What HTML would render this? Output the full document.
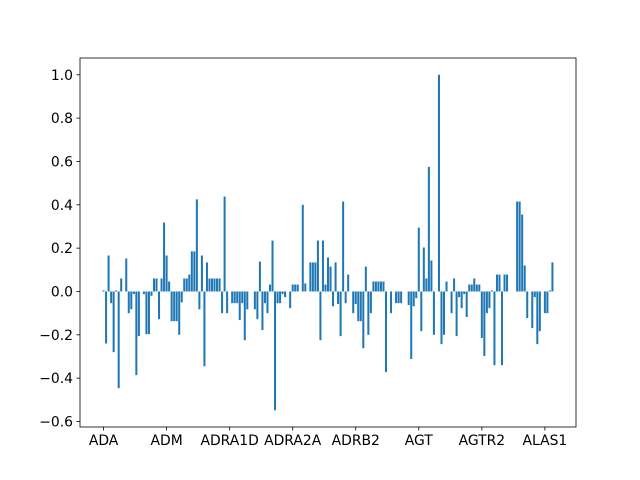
<!DOCTYPE html>
<html><head><meta charset="utf-8"><style>
body{margin:0;background:#fff}
svg{display:block}
text{font-family:"DejaVu Sans","Liberation Sans",sans-serif;font-size:13.9px;fill:#000}
</style></head><body>
<svg id="chart" width="640" height="480" xmlns="http://www.w3.org/2000/svg">
<rect x="0" y="0" width="640" height="480" fill="#fff"/>
<g id="bars"></g>
<g id="axes"></g>
</svg>
<script>
const values = [0.005,-0.24,0.166,-0.054,-0.28,0.005,-0.446,0.06,0,0.152,-0.1,-0.082,-0.012,-0.386,-0.206,0,-0.012,-0.197,-0.197,-0.02,0.06,0.06,-0.128,0.06,0.318,0.166,0.046,-0.137,-0.137,-0.137,-0.2,-0.05,0.06,0.06,0.078,0.185,0.185,0.425,-0.082,0.166,-0.345,0.134,0.06,0.06,0.06,0.06,0.06,-0.1,0.438,-0.1,0,-0.054,-0.054,-0.054,-0.132,-0.054,-0.225,-0.082,0,0,-0.082,-0.128,0.138,-0.178,-0.054,-0.1,0.032,0.235,-0.548,-0.054,-0.054,-0.012,-0.026,0,-0.077,0.032,0.032,0.032,0,0.4,0.037,0,0.134,0.134,0.134,0.235,-0.225,0.235,0.032,0.157,0.115,-0.068,0.134,-0.058,-0.206,0.415,-0.054,0.078,0,-0.1,-0.058,-0.137,-0.137,-0.262,0.115,-0.2,-0.1,0.046,0.046,0.046,0.046,0.046,-0.372,0,-0.1,0,-0.054,-0.054,-0.054,0,0,-0.063,-0.312,-0.068,-0.031,0.295,-0.183,0.203,0.06,0.575,0.143,-0.2,0,1.0,-0.243,-0.2,0.046,0,-0.1,0.06,-0.206,-0.026,-0.077,-0.012,-0.118,0.032,0.032,0.06,0.032,0.032,-0.215,-0.298,-0.1,-0.077,0.005,-0.34,0.078,0.078,-0.34,0.078,0.078,0,0,0,0.415,0.415,0.355,0.12,-0.123,0,-0.169,-0.026,-0.243,-0.183,0,-0.1,-0.1,0.005,0.134];
const tickLabels = ["ADA","ADM","ADRA1D","ADRA2A","ADRB2","AGT","AGTR2","ALAS1"];
const tickStep = 25;
const yTicks = [-0.6,-0.4,-0.2,0.0,0.2,0.4,0.6,0.8,1.0];

const L=80,R=576,T=58,B=427;
const n=values.length;
const xmin=-0.4-(n-0.2)*0.05, xmax=n-1+0.4+(n-0.2)*0.05;
const vmin=Math.min(0,...values), vmax=Math.max(0,...values);
const ymin=vmin-(vmax-vmin)*0.05, ymax=vmax+(vmax-vmin)*0.05;
const xs=v=>L+(v-xmin)/(xmax-xmin)*(R-L);
const ys=v=>B-(v-ymin)/(ymax-ymin)*(B-T);
const NS="http://www.w3.org/2000/svg";
const bars=document.getElementById('bars'), axes=document.getElementById('axes');
function mk(tag,attrs,parent){const e=document.createElementNS(NS,tag);for(const k in attrs)e.setAttribute(k,attrs[k]);parent.appendChild(e);return e;}
values.forEach((v,i)=>{
  const x0=xs(i-0.4),x1=xs(i+0.4);
  const y0=ys(Math.max(v,0)),y1=ys(Math.min(v,0));
  const r=mk('rect',{x:x0,y:y0,width:x1-x0,height:Math.max(y1-y0,0),fill:'#1f77b4'},bars);
  
  
});
const frame=mk('rect',{x:L,y:T,width:R-L,height:B-T,fill:'none',stroke:'#000','stroke-width':0.8},axes);


yTicks.forEach(t=>{
  const y=ys(t);
  const tk=mk('line',{x1:L-3.5,x2:L,y1:y,y2:y,stroke:'#000','stroke-width':0.8},axes);
  
  
  const lb=mk('text',{x:L-7,y:y+5,'text-anchor':'end'},axes);
  lb.textContent=(t<0?'\u2212':'')+Math.abs(t).toFixed(1);
  
  
});
tickLabels.forEach((s,k)=>{
  const x=xs(k*tickStep);
  const tk=mk('line',{x1:x,x2:x,y1:B,y2:B+3.5,stroke:'#000','stroke-width':0.8},axes);
  
  
  const lb=mk('text',{x:x,y:B+18,'text-anchor':'middle'},axes);
  lb.textContent=s;
  
  
});
</script>
</body></html>
